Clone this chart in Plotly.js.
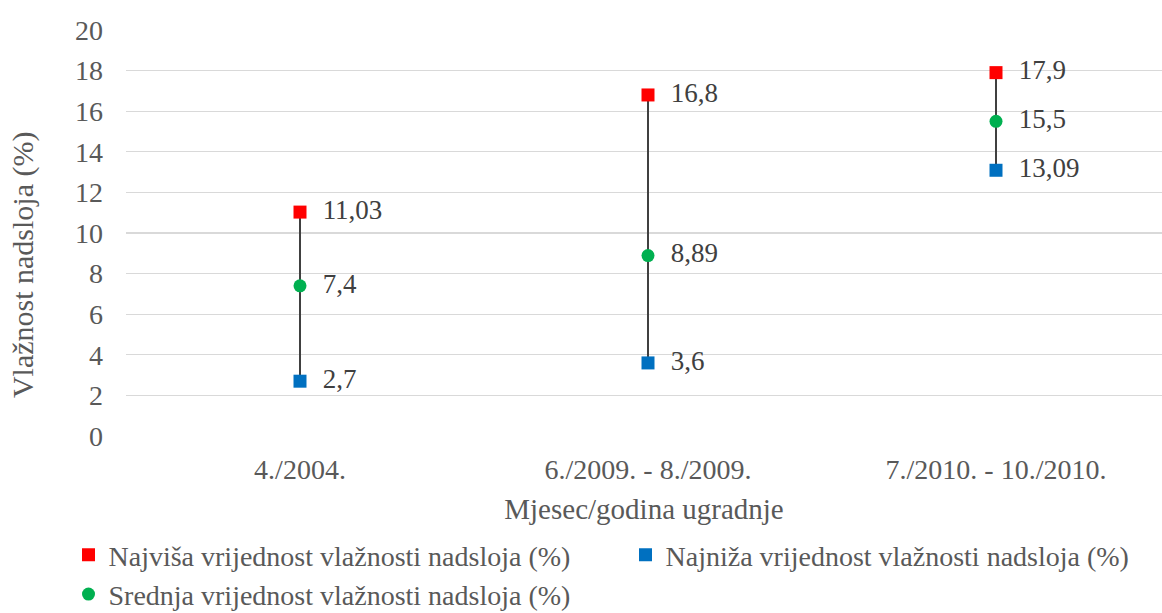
<!DOCTYPE html>
<html>
<head>
<meta charset="utf-8">
<script src="https://cdn.plot.ly/plotly-3.0.1.min.js"></script>
<style>html,body{margin:0;padding:0;background:#fff;}#chart{width:1162px;height:613px;}</style>
</head>
<body>
<div id="chart"></div>
<script>
const categories = ["4./2004.", "6./2009. - 8./2009.", "7./2010. - 10./2010."];
const highValues = [11.03, 16.8, 17.9];
const lowValues = [2.7, 3.6, 13.09];
const meanValues = [7.4, 8.89, 15.5];
const highLabels = ["11,03", "16,8", "17,9"];
const lowLabels = ["2,7", "3,6", "13,09"];
const meanLabels = ["7,4", "8,89", "15,5"];
const seriesNames = [
  "Najviša vrijednost vlažnosti nadsloja (%)",
  "Najniža vrijednost vlažnosti nadsloja (%)",
  "Srednja vrijednost vlažnosti nadsloja (%)"
];
const xTitle = "Mjesec/godina ugradnje";
const yTitle = "Vlažnost nadsloja (%)";

const FONT = "Liberation Serif, Times New Roman, serif";
const TXT = "#595959";

// high-low connector lines
const lineX = [], lineY = [];
categories.forEach((c, i) => {
  lineX.push(c, c, null);
  lineY.push(lowValues[i], highValues[i], null);
});

const labelFont = {family: FONT, size: 27, color: "#404040"};
const labelTpl = "\u00a0\u00a0%{text}";

const traces = [
  {x: lineX, y: lineY, mode: "lines", line: {color: "#404040", width: 2},
   showlegend: false, hoverinfo: "skip"},
  {x: categories, y: highValues, name: seriesNames[0], mode: "markers+text",
   text: highLabels, texttemplate: labelTpl, textposition: "middle right", textfont: labelFont,
   marker: {symbol: "square", size: 13, color: "#FF0000"}},
  {x: categories, y: lowValues, name: seriesNames[1], mode: "markers+text",
   text: lowLabels, texttemplate: labelTpl, textposition: "middle right", textfont: labelFont,
   marker: {symbol: "square", size: 13, color: "#0070C0"}},
  {x: categories, y: meanValues, name: seriesNames[2], mode: "markers+text",
   text: meanLabels, texttemplate: labelTpl, textposition: "middle right", textfont: labelFont,
   marker: {symbol: "circle", size: 13, color: "#00B050"}}
];

const layout = {
  width: 1162, height: 613,
  margin: {l: 126, r: 0, t: 30, b: 177, autoexpand: false},
  paper_bgcolor: "#fff", plot_bgcolor: "#fff",
  font: {family: FONT, color: TXT, size: 28},
  xaxis: {
    type: "category", range: [-0.5, 2.477],
    showgrid: false, zeroline: false, showline: false, ticks: "",
    automargin: false,
    ticklabelstandoff: 14,
    tickfont: {family: FONT, size: 28, color: TXT},
    title: {text: xTitle, font: {family: FONT, size: 29, color: TXT}, standoff: 14}
  },
  yaxis: {
    range: [0, 20], dtick: 2, tick0: 0,
    showgrid: true, gridcolor: "#D9D9D9", gridwidth: 1.3,
    zeroline: false, showline: false, ticks: "",
    automargin: false,
    ticklabelstandoff: 22,
    tickfont: {family: FONT, size: 28, color: TXT}
  },
  annotations: [{
    text: yTitle, xref: "paper", yref: "paper",
    x: -0.0994, y: 0.421, xanchor: "center", yanchor: "middle",
    textangle: -90, showarrow: false,
    font: {family: FONT, size: 30, color: TXT}
  }],
  legend: {
    orientation: "h", x: -0.0555, xanchor: "left", y: -0.2315, yanchor: "top",
    font: {family: FONT, size: 28, color: TXT},
    entrywidth: 512, entrywidthmode: "pixels",
    itemwidth: 30, tracegroupgap: 0
  },
  showlegend: true
};

Plotly.newPlot("chart", traces, layout, {displayModeBar: false, staticPlot: true});
</script>
</body>
</html>
